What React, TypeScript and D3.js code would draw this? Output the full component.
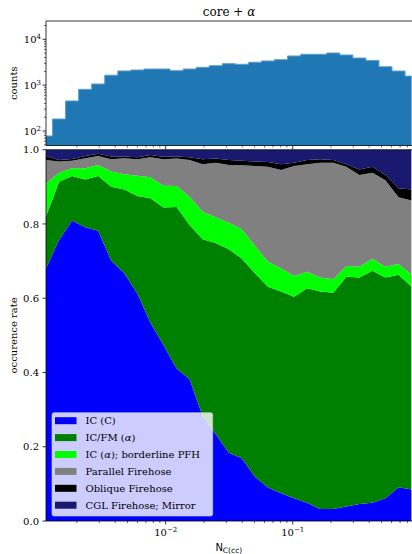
import React from 'react';
import * as d3 from 'd3';

// bin centres of N_C(cc)
const nValues = [
  0.001142, 0.001446, 0.001833, 0.002322, 0.002942, 0.003728, 0.004724, 0.005985,
  0.007583, 0.009609, 0.01218, 0.01543, 0.01955, 0.02477, 0.03139, 0.03977,
  0.05039, 0.06385, 0.0809, 0.1025, 0.1299, 0.1646, 0.2085, 0.2642,
  0.3348, 0.4242, 0.5374, 0.681, 0.8628,
];

// histogram counts per bin
const counts = [
  78, 183, 452, 811, 1060, 1650, 2040, 2140, 2250, 2250, 2070, 2250, 2450, 2660, 2940,
  2850, 3150, 3370, 3600, 4330, 4710, 4710, 5030, 4550, 3900, 3460, 2520, 2030, 1575,
];

// occurrence rates of each class
const icC = [
  0.681, 0.757, 0.809, 0.791, 0.782, 0.701, 0.667, 0.613, 0.534, 0.474, 0.411, 0.382, 0.283,
  0.234, 0.184, 0.169, 0.119, 0.09, 0.075, 0.061, 0.049, 0.032, 0.032, 0.039, 0.046, 0.049,
  0.061, 0.091, 0.085,
];
const icFmAlpha = [
  0.139, 0.157, 0.12, 0.129, 0.147, 0.199, 0.226, 0.262, 0.335, 0.37, 0.435, 0.415, 0.476,
  0.515, 0.548, 0.538, 0.548, 0.541, 0.543, 0.543, 0.578, 0.586, 0.583, 0.619, 0.61, 0.625,
  0.595, 0.572, 0.546,
];
const icAlphaBorder = [
  0.089, 0.024, 0.021, 0.03, 0.03, 0.041, 0.041, 0.055, 0.057, 0.059, 0.056, 0.076, 0.074,
  0.069, 0.071, 0.079, 0.074, 0.067, 0.063, 0.056, 0.044, 0.038, 0.036, 0.029, 0.029, 0.032,
  0.029, 0.029, 0.032,
];
const parallelFH = [
  0.063, 0.03, 0.02, 0.027, 0.024, 0.033, 0.043, 0.044, 0.054, 0.071, 0.074, 0.099, 0.128,
  0.147, 0.156, 0.172, 0.215, 0.256, 0.264, 0.296, 0.29, 0.309, 0.314, 0.267, 0.247, 0.232,
  0.233, 0.18, 0.2,
];
const obliqueFH = [
  0.011, 0.004, 0.005, 0.006, 0.006, 0.008, 0.005, 0.006, 0.006, 0.007, 0.006, 0.008, 0.013,
  0.011, 0.013, 0.012, 0.012, 0.013, 0.016, 0.009, 0.011, 0.009, 0.007, 0.007, 0.015, 0.016,
  0.014, 0.024, 0.03,
];
const cglMirror = [
  0.017, 0.028, 0.025, 0.017, 0.011, 0.018, 0.018, 0.02, 0.014, 0.019, 0.018, 0.02, 0.026,
  0.024, 0.028, 0.03, 0.032, 0.033, 0.039, 0.035, 0.028, 0.026, 0.028, 0.039, 0.053, 0.046,
  0.068, 0.104, 0.107,
];

const classLabels = [
  'IC (C)',
  'IC/FM (α)',
  'IC (α); borderline PFH',
  'Parallel Firehose',
  'Oblique Firehose',
  'CGL Firehose; Mirror',
];
const classSeries = [icC, icFmAlpha, icAlphaBorder, parallelFH, obliqueFH, cglMirror];
const classColors = ['#0000ff', '#008000', '#00ff00', '#808080', '#000000', '#191970'];

const yTickValues = [0, 0.2, 0.4, 0.6, 0.8, 1.0];
const countTickExps = [2, 3, 4];
const xTickExps = [-2, -1];

const W = 412;
const H = 554;
const L = 46;
const R = 411.6;
const TOP_T = 21;
const TOP_B = 145.5;
const BOT_T = 149.7;
const BOT_B = 521;

const SERIF = "'DejaVu Serif', serif";
const SANS = "'DejaVu Sans', sans-serif";

function renderLabel(text: string, fs: number) {
  const parts = text.split('α');
  const out: React.ReactNode[] = [];
  parts.forEach((p, i) => {
    out.push(<tspan key={'p' + i}>{p}</tspan>);
    if (i < parts.length - 1)
      out.push(
        <tspan key={'a' + i} fontStyle="italic">
          α
        </tspan>
      );
  });
  return out;
}

export default function App() {
  const x = d3.scaleLog().domain([nValues[0], nValues[nValues.length - 1]]).range([L, R]);
  const yTop = d3.scaleLog().domain([48.3, 25060]).range([TOP_B, TOP_T]);
  const y = d3.scaleLinear().domain([0, 1]).range([BOT_B, BOT_T]);

  // histogram bin edges (geometric midpoints)
  const edges: number[] = [];
  for (let i = 0; i <= nValues.length; i++) {
    if (i === 0) edges.push(nValues[0] / Math.sqrt(nValues[1] / nValues[0]));
    else if (i === nValues.length)
      edges.push(nValues[i - 1] * Math.sqrt(nValues[i - 1] / nValues[i - 2]));
    else edges.push(Math.sqrt(nValues[i - 1] * nValues[i]));
  }
  const stepPts: [number, number][] = [];
  counts.forEach((c, i) => {
    stepPts.push([x(edges[i]), yTop(c)]);
    stepPts.push([x(edges[i + 1]), yTop(c)]);
  });
  const stepPath =
    `M${x(edges[0])},${TOP_B}` +
    stepPts.map((p) => `L${p[0]},${p[1]}`).join('') +
    `L${x(edges[edges.length - 1])},${TOP_B}Z`;

  // stacked areas
  const keys = classLabels.map((_, i) => 'k' + i);
  const rows = nValues.map((n, j) => {
    const r: any = { n };
    classSeries.forEach((s, i) => (r['k' + i] = s[j]));
    return r;
  });
  const stacked = d3.stack<any>().keys(keys)(rows);
  const area = d3
    .area<any>()
    .x((d) => x(d.data.n))
    .y0((d) => y(d[0]))
    .y1((d) => y(d[1]));

  // log minor ticks
  const xMinor: number[] = [];
  for (let k = -4; k <= 0; k++)
    for (let m = 1; m <= 9; m++) {
      const v = m * Math.pow(10, k);
      if (v >= nValues[0] && v <= nValues[nValues.length - 1] * 1.0001) xMinor.push(v);
    }
  const yMinor: number[] = [];
  for (let k = 1; k <= 4; k++)
    for (let m = 1; m <= 9; m++) {
      const v = m * Math.pow(10, k);
      if (v >= 48.3 && v <= 25060) yMinor.push(v);
    }

  const legX = 52;
  const legY = 412.7;
  const legW = 160.7;
  const legH = 103.3;
  const rowStep = 16.9;

  return (
    <svg
      width={W}
      height={H}
      style={{ position: 'absolute', left: 0, top: 0, background: '#fff' }}
      xmlns="http://www.w3.org/2000/svg"
    >
      <defs>
        <clipPath id="clipTop">
          <rect x={L} y={TOP_T} width={R - L} height={TOP_B - TOP_T} />
        </clipPath>
        <clipPath id="clipBot">
          <rect x={L} y={BOT_T} width={R - L} height={BOT_B - BOT_T} />
        </clipPath>
      </defs>
      <rect x={0} y={0} width={W} height={H} fill="#fff" />

      {/* title */}
      <text x={229} y={16} textAnchor="middle" fontFamily={SERIF} fontSize={12} fill="#000">
        core + <tspan fontStyle="italic">α</tspan>
      </text>

      {/* histogram */}
      <g clipPath="url(#clipTop)">
        <path d={stepPath} fill="#1f77b4" stroke="#5c9fd0" strokeWidth={1} />
      </g>
      {/* top axes spines */}
      <line x1={L} x2={L} y1={TOP_T} y2={TOP_B} stroke="#000" strokeWidth={0.8} />
      <line x1={L} x2={W} y1={TOP_T} y2={TOP_T} stroke="#000" strokeWidth={0.8} />
      <line x1={L} x2={W} y1={TOP_B} y2={TOP_B} stroke="#000" strokeWidth={0.8} />
      {/* top x ticks */}
      {xMinor.map((v, i) => {
        const major = Math.abs(Math.log10(v) - Math.round(Math.log10(v))) < 1e-9;
        return (
          <line
            key={'tx' + i}
            x1={x(v)}
            x2={x(v)}
            y1={TOP_B}
            y2={TOP_B + (major ? 3.5 : 2)}
            stroke="#000"
            strokeWidth={major ? 0.8 : 0.6}
          />
        );
      })}
      {/* top y ticks */}
      {yMinor.map((v, i) => {
        const major = Math.abs(Math.log10(v) - Math.round(Math.log10(v))) < 1e-9;
        return (
          <line
            key={'ty' + i}
            x1={L - (major ? 3.5 : 2)}
            x2={L}
            y1={yTop(v)}
            y2={yTop(v)}
            stroke="#000"
            strokeWidth={major ? 0.8 : 0.6}
          />
        );
      })}
      {countTickExps.map((e) => (
        <text
          key={'cl' + e}
          x={L - 5}
          y={yTop(Math.pow(10, e)) + 3.5}
          textAnchor="end"
          fontFamily={SERIF}
          fontSize={10}
          fill="#000"
        >
          10
          <tspan fontSize={7} dy={-4}>
            {e}
          </tspan>
        </text>
      ))}
      <text
        transform={`translate(13,${(TOP_T + TOP_B) / 2}) rotate(-90)`}
        textAnchor="middle"
        dominantBaseline="central"
        fontFamily={SERIF}
        fontSize={10}
        fill="#000"
      >
        counts
      </text>

      {/* stacked occurrence areas */}
      <g clipPath="url(#clipBot)">
        {stacked.map((s, i) => (
          <path key={'a' + i} d={area(s) || ''} fill={classColors[i]} stroke="none" />
        ))}
      </g>
      <line x1={L} x2={L} y1={BOT_T} y2={BOT_B} stroke="#000" strokeWidth={0.8} />
      <line x1={L} x2={W} y1={BOT_T} y2={BOT_T} stroke="#000" strokeWidth={0.8} />
      <line x1={L} x2={W} y1={BOT_B} y2={BOT_B} stroke="#000" strokeWidth={0.8} />
      {yTickValues.map((v) => (
        <g key={'yt' + v}>
          <line x1={L - 3.5} x2={L} y1={y(v)} y2={y(v)} stroke="#000" strokeWidth={0.8} />
          <text
            x={L - 7}
            y={y(v) + 3.6}
            textAnchor="end"
            fontFamily={SERIF}
            fontSize={10}
            fill="#000"
          >
            {v.toFixed(1)}
          </text>
        </g>
      ))}
      {xMinor.map((v, i) => {
        const major = Math.abs(Math.log10(v) - Math.round(Math.log10(v))) < 1e-9;
        return (
          <line
            key={'bx' + i}
            x1={x(v)}
            x2={x(v)}
            y1={BOT_B}
            y2={BOT_B + (major ? 3.5 : 2)}
            stroke="#000"
            strokeWidth={major ? 0.8 : 0.6}
          />
        );
      })}
      {xTickExps.map((e) => (
        <text
          key={'xl' + e}
          x={x(Math.pow(10, e))}
          y={535.5}
          textAnchor="middle"
          fontFamily={SERIF}
          fontSize={10}
          fill="#000"
        >
          10
          <tspan fontSize={7} dy={-4}>
            {'\u2212' + Math.abs(e)}
          </tspan>
        </text>
      ))}
      <text
        transform={`translate(13,${(BOT_T + BOT_B) / 2}) rotate(-90)`}
        textAnchor="middle"
        dominantBaseline="central"
        fontFamily={SERIF}
        fontSize={10}
        fill="#000"
      >
        occurence rate
      </text>
      <text x={(L + R) / 2} y={551} textAnchor="middle" fontFamily={SANS} fontSize={10} fill="#000">
        N
        <tspan fontSize={7.5} dy={2}>
          C(cc)
        </tspan>
      </text>

      {/* legend */}
      <rect
        x={legX}
        y={legY}
        width={legW}
        height={legH}
        rx={2}
        fill="#fff"
        fillOpacity={0.8}
        stroke="#cccccc"
        strokeOpacity={0.8}
        strokeWidth={0.8}
      />
      {classLabels.map((lab, i) => {
        const cy = 420.7 + rowStep * i;
        return (
          <g key={'lg' + i}>
            <rect x={55} y={cy - 3.5} width={21.5} height={7} fill={classColors[i]} />
            <text
              x={85.5}
              y={cy + 3.5}
              fontFamily={SERIF}
              fontSize={10}
              fill="#000"
            >
              {renderLabel(lab, 10)}
            </text>
          </g>
        );
      })}
    </svg>
  );
}
